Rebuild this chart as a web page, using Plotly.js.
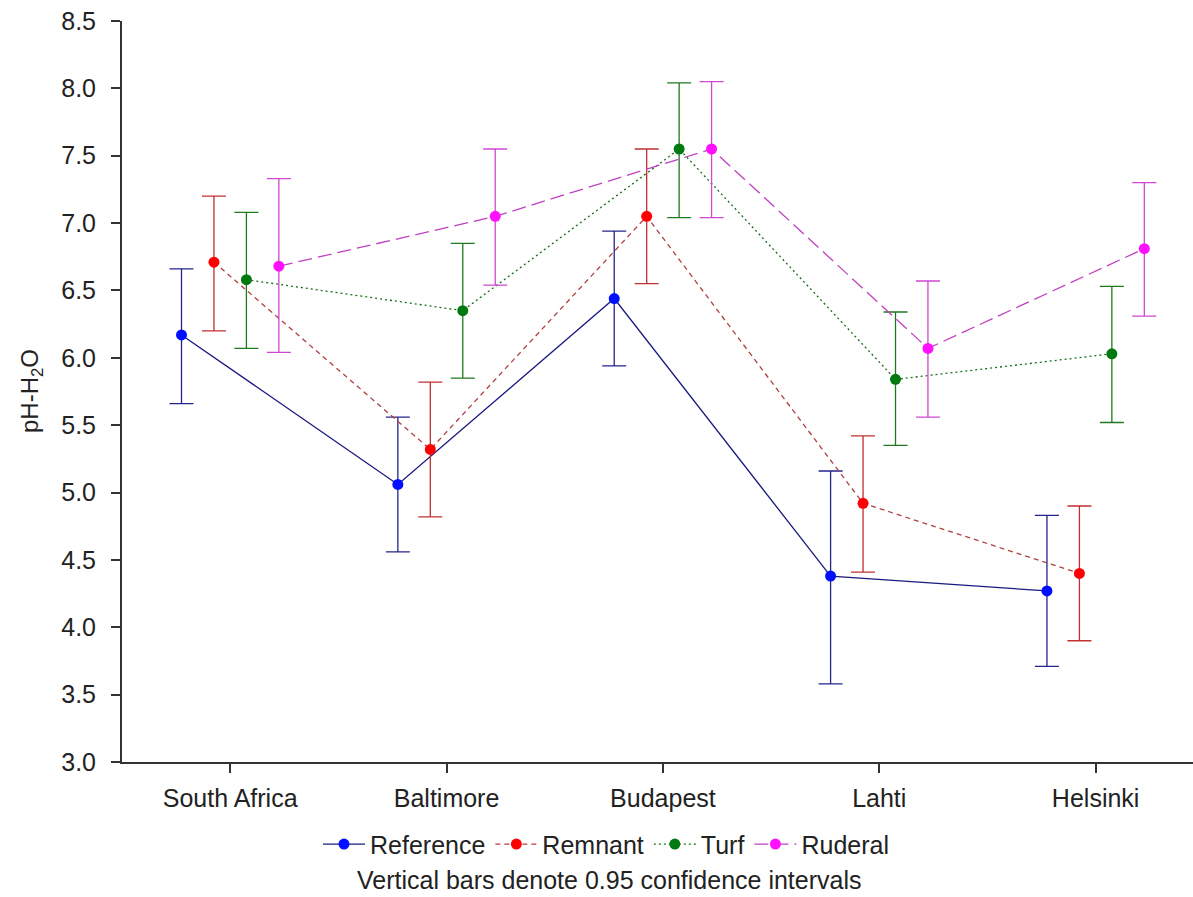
<!DOCTYPE html>
<html>
<head>
<meta charset="utf-8">
<script src="https://cdn.plot.ly/plotly-3.0.1.min.js"></script>
<style>html,body{margin:0;padding:0;background:#fff;}#chart{width:1193px;height:897px;}</style>
</head>
<body>
<div id="chart"></div>
<script>
// Categories and tick labels
const categories = ["South Africa", "Baltimore", "Budapest", "Lahti", "Helsinki"];
const seriesNames = ["Reference", "Remnant", "Turf", "Ruderal"];

// Means (pH-H2O)
const referenceMean = [6.17, 5.06, 6.44, 4.38, 4.27];
const remnantMean   = [6.71, 5.32, 7.05, 4.92, 4.40];
const turfMean      = [6.58, 6.35, 7.55, 5.84, 6.03];
const ruderalMean   = [6.68, 7.05, 7.55, 6.07, 6.81];

// 95% confidence interval bounds
const referenceLow  = [5.66, 4.56, 5.94, 3.58, 3.71];
const referenceHigh = [6.66, 5.56, 6.94, 5.16, 4.83];
const remnantLow    = [6.20, 4.82, 6.55, 4.41, 3.90];
const remnantHigh   = [7.20, 5.82, 7.55, 5.42, 4.90];
const turfLow       = [6.07, 5.85, 7.04, 5.35, 5.52];
const turfHigh      = [7.08, 6.85, 8.04, 6.34, 6.53];
const ruderalLow    = [6.04, 6.54, 7.04, 5.56, 6.31];
const ruderalHigh   = [7.33, 7.55, 8.05, 6.57, 7.30];

const means = [referenceMean, remnantMean, turfMean, ruderalMean];
const lows = [referenceLow, remnantLow, turfLow, ruderalLow];
const highs = [referenceHigh, remnantHigh, turfHigh, ruderalHigh];

// styling (not data)
const offsets = [-0.225, -0.075, 0.075, 0.225];
const lineColors = ["#1a1a80", "#b04040", "#1a6e1a", "#c040c0"];
const errColors = ["#24248c", "#c03030", "#1f7a1f", "#d048d0"];
const markerColors = ["#0010ff", "#ff0000", "#007a10", "#ff10ff"];
const dashes = ["solid", "5px,4px", "2px,3px", "14px,6px"];

const FONT = "Liberation Sans, Arial, sans-serif";
const TXT = "#222222";

const traces = seriesNames.map((name, s) => ({
  type: "scatter",
  mode: "lines+markers",
  name: name,
  x: categories.map((c, i) => i + offsets[s]),
  y: means[s],
  line: {color: lineColors[s], width: 1.3, dash: dashes[s]},
  marker: {color: markerColors[s], size: 11, symbol: "circle"},
  error_y: {
    type: "data", symmetric: false,
    array: means[s].map((m, i) => highs[s][i] - m),
    arrayminus: means[s].map((m, i) => m - lows[s][i]),
    color: errColors[s], thickness: 1.3, width: 12
  },
  hoverinfo: "x+y"
}));

const layout = {
  width: 1193, height: 897,
  paper_bgcolor: "#ffffff", plot_bgcolor: "#ffffff",
  margin: {l: 121.5, r: 0, t: 21, b: 135},
  font: {family: FONT, size: 25, color: TXT},
  showlegend: true,
  legend: {
    orientation: "h", x: 0.183, y: -0.080, xanchor: "left", yanchor: "top",
    font: {family: FONT, size: 25, color: TXT}, bgcolor: "rgba(0,0,0,0)",
    itemwidth: 42, tracegroupgap: 0
  },
  xaxis: {
    range: [-0.5, 4.45],
    tickmode: "array", tickvals: categories.map((c, i) => i), ticktext: categories,
    showgrid: false, zeroline: false,
    showline: true, linecolor: "#333", linewidth: 2,
    ticks: "outside", ticklen: 9, tickwidth: 2, tickcolor: "#333",
    tickfont: {family: FONT, size: 25, color: TXT},
    ticklabelstandoff: 4
  },
  yaxis: {
    range: [3, 8.5], dtick: 0.5, tick0: 3, tickformat: ".1f",
    showgrid: false, zeroline: false,
    showline: true, linecolor: "#333", linewidth: 2,
    ticks: "outside", ticklen: 9, tickwidth: 2, tickcolor: "#333",
    tickfont: {family: FONT, size: 25, color: TXT},
    ticklabelstandoff: 10
  },
  annotations: [{
    text: "pH-H<sub>2</sub>O", textangle: -90,
    xref: "paper", yref: "paper", x: (31 - 121.5) / 1071.5, y: 0.5,
    xanchor: "center", yanchor: "middle", showarrow: false,
    font: {family: FONT, size: 24, color: TXT}
  }, {
    text: "Vertical bars denote 0.95 confidence intervals",
    xref: "paper", yref: "paper", x: (609 - 121.5) / 1071.5, y: -(896 - 762) / 741,
    xanchor: "center", yanchor: "bottom", showarrow: false,
    font: {family: FONT, size: 25, color: TXT}
  }]
};

Plotly.newPlot("chart", traces, layout, {displayModeBar: false, staticPlot: true});
</script>
</body>
</html>
